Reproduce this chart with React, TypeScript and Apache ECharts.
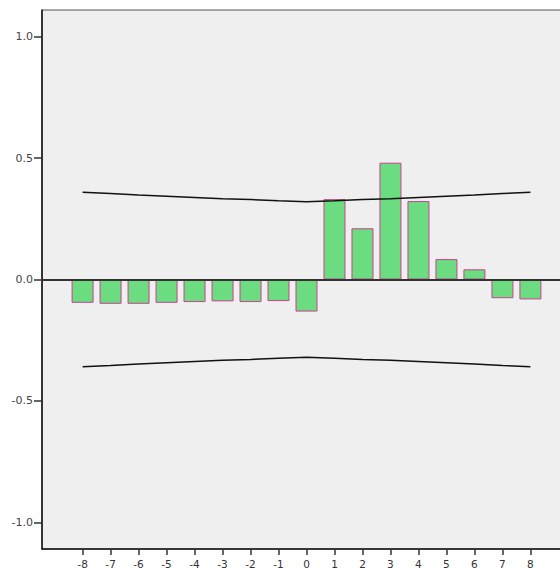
import React, { useEffect, useRef } from "react";
import * as echarts from "echarts";

const lags = [-8, -7, -6, -5, -4, -3, -2, -1, 0, 1, 2, 3, 4, 5, 6, 7, 8];
const ccf = [-0.096, -0.1, -0.1, -0.096, -0.093, -0.09, -0.093, -0.089, -0.132, 0.331, 0.211, 0.481, 0.323, 0.084, 0.042, -0.077, -0.082];
const upperLimit = [0.359, 0.354, 0.348, 0.343, 0.338, 0.333, 0.329, 0.324, 0.32, 0.324, 0.329, 0.333, 0.338, 0.343, 0.348, 0.354, 0.359];
const lowerLimit = [-0.359, -0.354, -0.348, -0.343, -0.338, -0.333, -0.329, -0.324, -0.32, -0.324, -0.329, -0.333, -0.338, -0.343, -0.348, -0.354, -0.359];
const yTicks = [-1, -0.5, 0, 0.5, 1];

export default function App() {
  const ref = useRef<HTMLDivElement>(null);
  useEffect(() => {
    document.body.style.margin = "0";
    const chart = echarts.init(ref.current!, null, { renderer: "svg" });
    chart.setOption({
      animation: false,
      backgroundColor: "#ffffff",
      grid: {
        left: 42,
        top: 10,
        bottom: 24,
        right: 0,
        show: true,
        backgroundColor: "#efefef",
        borderColor: "#555555",
        borderWidth: 1,
      },
      xAxis: {
        type: "value",
        min: -9.45,
        max: 9.45,
        splitLine: { show: false },
        axisLine: { show: true, onZero: false, lineStyle: { color: "#111", width: 1.5 } },
        axisTick: { show: true, customValues: lags, length: 6, lineStyle: { color: "#333", width: 1.5 } },
        axisLabel: {
          customValues: lags,
          color: "#333",
          fontSize: 10.5,
          fontFamily: "DejaVu Sans",
          margin: 9,
        },
      },
      yAxis: {
        type: "value",
        min: -1.11,
        max: 1.11,
        splitLine: { show: false },
        axisLine: { show: true, onZero: false, lineStyle: { color: "#111", width: 1.5 } },
        axisTick: { show: true, customValues: yTicks, length: 8, lineStyle: { color: "#333", width: 1.5 } },
        axisLabel: {
          customValues: yTicks,
          color: "#444",
          fontSize: 11,
          fontFamily: "DejaVu Sans",
          margin: 9,
          formatter: (v: number) => v.toFixed(1),
        },
      },
      series: [
        {
          type: "bar",
          data: lags.map((l, i) => [l, ccf[i]]),
          barWidth: 22,
          itemStyle: { color: "#6bdc80", borderColor: "#c9428f", borderWidth: 1 },
          markLine: {
            silent: true,
            symbol: "none",
            label: { show: false },
            lineStyle: { color: "#333", width: 2, type: "solid" },
            data: [{ yAxis: 0 }],
          },
        },
        {
          type: "line",
          data: lags.map((l, i) => [l, upperLimit[i]]),
          showSymbol: false,
          symbol: "none",
          lineStyle: { color: "#111", width: 1.5 },
        },
        {
          type: "line",
          data: lags.map((l, i) => [l, lowerLimit[i]]),
          showSymbol: false,
          symbol: "none",
          lineStyle: { color: "#111", width: 1.5 },
        },
      ],
    });
    return () => chart.dispose();
  }, []);
  return (
    <div style={{ width: 560, height: 573, overflow: "hidden" }}>
      <div ref={ref} style={{ width: 571, height: 573 }} />
    </div>
  );
}
